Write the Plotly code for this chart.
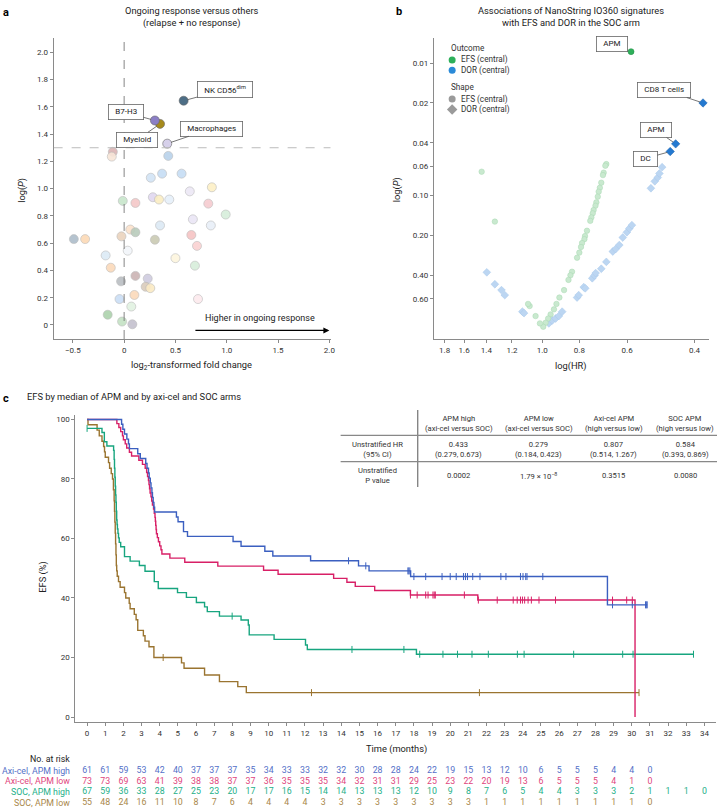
import numpy as np
import plotly.graph_objects as go

W, H = 722, 808
FONT = "Roboto"


def PX(x):
    return x / W


def PY(y):
    return 1 - y / H


def txt(text, x, y, size=9.3, color="#222", xanchor="center", yanchor="middle", angle=0):
    return dict(text=text, x=PX(x), y=PY(y), xref="paper", yref="paper", xanchor=xanchor,
                yanchor=yanchor, textangle=angle, showarrow=False,
                font=dict(family=FONT, size=size, color=color))


def padded(s):
    return "\u00a0\u00a0" + s + "\u00a0\u00a0"


# ---------------- Panel a data ----------------
a_names = ["NK CD56<sup>dim</sup>", "B7-H3", "Myeloid", "Macrophages"]
a_fc = [0.58, 0.30, 0.35, 0.42,
        -0.11, -0.12, 0.43, 0.26, 0.37, 0.56, 0.64, 0.855, -0.013, 0.11, 0.28, 0.34,
        0.44, 0.82, 0.99, 0.67, 0.845, 0.35, 0.06, 0.11, -0.026, -0.49, -0.38, 0.30,
        0.655, 0.71, 0.035, -0.18, 0.50, -0.13, 0.69, -0.03, 0.11, 0.23, 0.21, 0.255,
        -0.045, 0.10, 0.07, -0.16, -0.02, 0.08, 0.72]
a_logp = [1.645, 1.50, 1.475, 1.33,
          1.27, 1.235, 1.24, 1.08, 1.11, 1.11, 0.98, 1.01, 0.91, 0.895, 0.937, 0.92,
          0.92, 0.89, 0.81, 0.775, 0.73, 0.73, 0.70, 0.68, 0.65, 0.63, 0.63, 0.625,
          0.66, 0.58, 0.545, 0.51, 0.49, 0.42, 0.435, 0.32, 0.36, 0.34, 0.28, 0.27,
          0.19, 0.22, 0.135, 0.075, 0.025, 0.005, 0.19]
a_colors = ["#4d6e86", "#8b7fc6", "#a68a1c", "#d6d0ea",
            "#dcb4b4", "#f8e6d8", "#b9d2ea", "#d2e4f6", "#c6ddf5", "#c6ddf5", "#ede8f6", "#fdf0c6",
            "#c8e6cc", "#f5c8c8", "#e0d8f0", "#fbeec4", "#e6f0fa", "#f6ccd0", "#d6eedb", "#eae6f6",
            "#e8eff8", "#dce9f5", "#fbe2cb", "#b9ccbc", "#ead3bd", "#adbdca", "#fcdab6", "#cacab3",
            "#f6c4c4", "#fad2d2", "#f2f6fa", "#dceaf6", "#fdf6de", "#fbdabb", "#d8eedb", "#babec3",
            "#cbb4b4", "#cfcbdf", "#dacbbb", "#fbeac4", "#cadef6", "#fbdabb", "#e2f2e2", "#acd2ac",
            "#c4e2c4", "#c4c0ce", "#fdeaee"]
a_xticks = [-0.5, 0, 0.5, 1.0, 1.5, 2.0]
a_xticktext = ["\u22120.5", "0", "0.5", "1.0", "1.5", "2.0"]
a_yticks = [0, 0.2, 0.4, 0.6, 0.8, 1.0, 1.2, 1.4, 1.6, 1.8, 2.0]
a_yticktext = ["0", "0.2", "0.4", "0.6", "0.8", "1.0", "1.2", "1.4", "1.6", "1.8", "2.0"]
a_threshold = 1.3

# ---------------- Panel b data ----------------
efs_hr = [1.44, 1.33, 0.680, 0.684, 0.691, 0.694, 0.701, 0.707, 0.712, 0.716, 0.722, 0.726,
          0.734, 0.738, 0.744, 0.749, 0.764, 0.773, 0.776, 0.787, 0.792, 0.800, 0.811, 0.836,
          0.844, 0.854, 0.877, 0.902, 0.918, 0.932, 0.951, 0.965, 0.980, 0.994, 1.014, 1.041,
          1.079, 1.089]
efs_p = [0.066, 0.157, 0.0578, 0.0595, 0.0671, 0.0700, 0.0799, 0.0873, 0.0934, 0.1019, 0.1124,
         0.1192, 0.1284, 0.136, 0.146, 0.155, 0.184, 0.202, 0.213, 0.228, 0.244, 0.269, 0.294,
         0.375, 0.399, 0.432, 0.516, 0.587, 0.656, 0.721, 0.787, 0.845, 0.91, 0.975, 0.92,
         0.81, 0.68, 0.656]
dor_hr = [1.396, 1.33, 1.278, 1.253, 1.127, 1.116, 0.961, 0.942, 0.923, 0.905, 0.887, 0.811,
          0.803, 0.779, 0.772, 0.740, 0.730, 0.725, 0.701, 0.680, 0.654, 0.643, 0.629, 0.616,
          0.601, 0.592, 0.583, 0.520, 0.508, 0.499, 0.494, 0.486]
dor_p = [0.379, 0.466, 0.516, 0.563, 0.75, 0.77, 0.92, 0.875, 0.845, 0.81, 0.75, 0.587, 0.563,
         0.49, 0.50, 0.42, 0.40, 0.384, 0.356, 0.316, 0.264, 0.253, 0.236, 0.207, 0.189, 0.177,
         0.167, 0.088, 0.078, 0.073, 0.068, 0.061]
efs_hi_names = ["APM"]
efs_hi_hr = [0.586]
efs_hi_p = [0.0082]
dor_hi_names = ["CD8 T cells", "APM", "DC"]
dor_hi_hr = [0.38, 0.448, 0.463]
dor_hi_p = [0.020, 0.0407, 0.0465]
b_xticks = [1.8, 1.6, 1.4, 1.2, 1.0, 0.8, 0.6, 0.4]
b_xticktext = ["1.8", "1.6", "1.4", "1.2", "1.0", "0.8", "0.6", "0.4"]
b_yticks = [0.01, 0.02, 0.04, 0.06, 0.10, 0.20, 0.40, 0.60]
b_yticktext = ["0.01", "0.02", "0.04", "0.06", "0.10", "0.20", "0.40", "0.60"]
b_threshold = 0.05

# ---------------- Panel c data ----------------
groups = ["Axi-cel, APM high", "Axi-cel, APM low", "SOC, APM high", "SOC, APM low"]
colors_c = ["#3b5fc0", "#d81f66", "#17a57f", "#9a7430"]
text_colors_c = ["#5470c8", "#e0457d", "#25b089", "#a8874a"]

blue_t = [0, 1.90, 1.97, 2.06, 2.19, 2.28, 2.33, 2.79, 2.93, 3.23, 3.30, 3.38, 3.42, 3.48, 3.52,
          3.57, 3.60, 3.64, 3.68, 3.72, 4.92, 5.01, 5.31, 5.53, 8.04, 8.48, 9.79, 10.23, 12.31,
          14.95, 15.53, 17.82, 28.66, 30.85]
blue_s = [100, 98.4, 96.7, 95.1, 93.4, 91.8, 90.2, 88.5, 86.9, 85.2, 83.6, 82.0, 80.3, 78.7, 77.0,
          75.4, 73.8, 72.1, 70.5, 68.9, 67.2, 65.6, 62.3, 60.7, 59.0, 57.4, 55.7, 54.1, 52.5,
          50.8, 49.1, 47.2, 37.7, 37.7]
blue_c = [14.40, 15.35, 17.67, 17.72, 17.78, 18.0, 18.65, 19.55, 20.0, 20.33, 20.73, 20.84, 20.95,
          21.24, 21.64, 22.79, 23.07, 23.87, 24.01, 24.16, 24.23, 25.1, 28.94, 30.03, 30.76,
          30.80, 30.85]

pink_t = [0, 1.64, 1.75, 1.85, 1.95, 2.00, 2.10, 2.18, 2.33, 2.45, 2.85, 3.05, 3.20, 3.28, 3.33,
          3.38, 3.41, 3.44, 3.47, 3.52, 3.56, 3.60, 3.66, 3.70, 3.74, 3.76, 3.78, 3.80, 3.82,
          3.87, 3.93, 4.00, 4.07, 4.12, 4.56, 5.38, 7.20, 9.72, 10.52, 13.58, 14.31, 14.77,
          15.84, 17.81, 21.52, 30.18]
pink_s = [100, 98.6, 97.3, 95.9, 94.5, 93.2, 91.8, 90.4, 89.0, 87.7, 86.3, 84.9, 83.6, 82.2, 80.8,
          79.5, 78.1, 76.7, 75.3, 74.0, 72.6, 71.2, 69.9, 68.5, 67.1, 65.8, 64.4, 63.0, 61.6,
          60.3, 58.9, 57.5, 56.2, 54.8, 53.4, 52.0, 50.7, 49.3, 48.0, 46.6, 45.3, 43.9, 42.5,
          41.0, 39.3, 0]
pink_c = [17.81, 18.18, 18.65, 18.78, 19.05, 19.12, 19.18, 20.78, 21.55, 22.59, 23.47, 23.69,
          23.87, 23.98, 24.1, 24.29, 24.47, 24.89, 25.8, 28.94, 29.72, 30.03]

green_t = [0, 0.82, 0.95, 1.09, 1.46, 1.49, 1.51, 1.53, 1.55, 1.57, 1.59, 1.61, 1.63, 1.65, 1.67,
           1.70, 1.73, 1.77, 1.85, 2.06, 2.37, 2.88, 3.19, 3.70, 3.92, 4.98, 5.47, 6.02, 6.47,
           6.62, 7.29, 8.48, 8.88, 8.93, 10.30, 12.03, 12.13, 18.14, 33.4]
green_s = [97.0, 95.6, 92.5, 91.1, 89.6, 86.6, 83.6, 80.6, 77.6, 74.6, 72.2, 69.2, 66.2, 64.7,
           63.2, 61.7, 60.2, 58.7, 57.2, 53.9, 52.4, 50.9, 49.0, 45.5, 43.2, 41.8, 40.2, 38.5,
           37.0, 35.4, 33.9, 32.6, 30.9, 27.6, 26.1, 24.2, 22.7, 21.1, 21.1]
green_c = [0, 7.99, 14.59, 17.45, 18.32, 19.6, 20.4, 21.2, 22.1, 23.7, 24.07, 26.8, 29.5, 30.07,
           33.4]

brown_t = [0, 0.05, 0.55, 0.67, 0.82, 0.91, 0.96, 1.00, 1.18, 1.24, 1.33, 1.40, 1.45, 1.49, 1.51,
           1.53, 1.55, 1.57, 1.59, 1.61, 1.63, 1.66, 1.73, 1.82, 2.06, 2.13, 2.32, 2.37, 2.60,
           2.70, 2.79, 3.10, 3.19, 3.41, 3.68, 5.20, 5.34, 6.47, 7.29, 8.30, 8.77, 30.40]
brown_s = [100, 98.2, 96.4, 94.5, 92.7, 90.9, 89.1, 87.3, 85.5, 83.6, 81.8, 80.0, 76.4, 72.7,
           69.1, 65.5, 61.8, 58.2, 54.5, 50.9, 49.1, 47.3, 45.5, 43.6, 41.8, 40.0, 38.2, 36.4,
           34.5, 32.7, 29.1, 27.3, 25.5, 23.6, 20.0, 18.2, 16.4, 14.1, 11.9, 10.2, 8.2, 8.2]
brown_c = [4.19, 12.36, 21.61, 30.40]

risk_axi_high = [61, 61, 59, 53, 42, 40, 37, 37, 37, 35, 34, 33, 33, 32, 32, 30, 28, 28, 24, 22,
                 19, 15, 13, 12, 10, 6, 5, 5, 5, 4, 4, 0]
risk_axi_low = [73, 73, 69, 63, 41, 39, 38, 38, 37, 37, 36, 35, 35, 35, 34, 32, 31, 31, 29, 25,
                23, 22, 20, 19, 13, 6, 5, 5, 5, 4, 1, 0]
risk_soc_high = [67, 59, 36, 33, 28, 27, 25, 23, 20, 17, 17, 16, 15, 14, 14, 13, 13, 13, 12, 10,
                 9, 8, 7, 6, 5, 4, 4, 3, 3, 3, 2, 1, 1, 1, 0]
risk_soc_low = [55, 48, 24, 16, 11, 10, 8, 7, 6, 4, 4, 4, 4, 3, 3, 3, 3, 3, 3, 3, 3, 3, 1, 1, 1,
                1, 1, 1, 1, 1, 1, 0]
c_months = list(range(0, 35))
c_yticks = [0, 20, 40, 60, 80, 100]

table_cols = [("APM high", "(axi-cel versus SOC)"), ("APM low", "(axi-cel versus SOC)"),
              ("Axi-cel APM", "(high versus low)"), ("SOC APM", "(high versus low)")]
table_hr = ["0.433", "0.279", "0.807", "0.584"]
table_ci = ["(0.279, 0.673)", "(0.184, 0.423)", "(0.514, 1.267)", "(0.393, 0.869)"]
table_p = ["0.0002", "1.79 \u00d7 10<sup>\u22128</sup>", "0.3515", "0.0080"]

# ---------------- Figure ----------------
fig = go.Figure()
AX = "#8a8a8a"
TICKF = dict(family=FONT, size=8, color="#333")
LABF = 8
TABF = 7.6

# Panel a
n_hi = len(a_names)
fig.add_trace(go.Scatter(x=a_fc[n_hi:], y=a_logp[n_hi:], mode="markers", xaxis="x", yaxis="y",
                         marker=dict(size=9, color=a_colors[n_hi:], opacity=0.9,
                                     line=dict(color="#b5b5b5", width=0.6)), hoverinfo="skip"))
fig.add_trace(go.Scatter(x=a_fc[:n_hi][::-1], y=a_logp[:n_hi][::-1], mode="markers", xaxis="x", yaxis="y",
                         marker=dict(size=9, color=a_colors[:n_hi][::-1],
                                     line=dict(color="#666", width=0.6)), hoverinfo="skip"))

# Panel b
fig.add_trace(go.Scatter(x=dor_hr, y=dor_p, mode="markers", xaxis="x2", yaxis="y2",
                         marker=dict(symbol="diamond", size=6, color="#bcd6f2",
                                     line=dict(color="#a9c8ea", width=0.5)), hoverinfo="skip"))
fig.add_trace(go.Scatter(x=efs_hr, y=efs_p, mode="markers", xaxis="x2", yaxis="y2",
                         marker=dict(symbol="circle", size=5.5, color="#c9e9cf",
                                     line=dict(color="#a9d8b2", width=0.5)), hoverinfo="skip"))
fig.add_trace(go.Scatter(x=efs_hi_hr, y=efs_hi_p, mode="markers", xaxis="x2", yaxis="y2",
                         marker=dict(symbol="circle", size=6, color="#2eb05a",
                                     line=dict(color="#1d8a42", width=0.5)), hoverinfo="skip"))
fig.add_trace(go.Scatter(x=dor_hi_hr, y=dor_hi_p, mode="markers", xaxis="x2", yaxis="y2",
                         marker=dict(symbol="diamond", size=6.5, color="#2479d0",
                                     line=dict(color="#1a5ea8", width=0.5)), hoverinfo="skip"))

# Panel b legend glyphs (hidden helper axis, 1 unit = 1 px)
fig.add_trace(go.Scatter(x=[10.3, 10.3, 10.3], y=[20, 30.3, 59], mode="markers", xaxis="x4", yaxis="y4",
                         marker=dict(symbol="circle", size=7, color=["#2eb05a", "#2a8ad8", "#9a9a9a"]),
                         hoverinfo="skip"))
fig.add_trace(go.Scatter(x=[10.3], y=[69.5], mode="markers", xaxis="x4", yaxis="y4",
                         marker=dict(symbol="diamond", size=8, color="#9a9a9a"), hoverinfo="skip"))

# Panel c KM curves
series = [(blue_t, blue_s, blue_c), (pink_t, pink_s, pink_c),
          (green_t, green_s, green_c), (brown_t, brown_s, brown_c)]
draw_order = [3, 2, 1, 0]
for k in draw_order:
    t, s, c = series[k]
    fig.add_trace(go.Scatter(x=t, y=s, mode="lines", line=dict(color=colors_c[k], width=1.4, shape="hv"),
                             xaxis="x3", yaxis="y3", hoverinfo="skip"))
for (t, s, c), col in zip(series, colors_c):
    ta = np.array(t)
    sa = np.array(s)
    idx = np.searchsorted(ta, np.array(c), side="right") - 1
    cy = sa[np.clip(idx, 0, len(sa) - 1)]
    fig.add_trace(go.Scatter(x=c, y=cy, mode="markers", xaxis="x3", yaxis="y3",
                             marker=dict(symbol="line-ns", size=5, line=dict(color=col, width=1)),
                             hoverinfo="skip"))

# At-risk numbers (helper axis sharing the panel c time scale)
risks = [risk_axi_high, risk_axi_low, risk_soc_high, risk_soc_low]
for r, (vals, col) in enumerate(zip(risks, text_colors_c)):
    fig.add_trace(go.Scatter(x=c_months[:len(vals)], y=[r] * len(vals), mode="text",
                             text=[str(v) for v in vals], textposition="middle center",
                             textfont=dict(family=FONT, size=8.8, color=col),
                             xaxis="x5", yaxis="y5", hoverinfo="skip"))

ann = []
shapes = []

# Panel letters and titles
ann += [
    txt("<b>a</b>", 1, 4, size=11, color="black", xanchor="left", yanchor="top"),
    txt("<b>b</b>", 397, 3, size=11, color="black", xanchor="left", yanchor="top"),
    txt("<b>c</b>", 1, 390, size=11, color="black", xanchor="left", yanchor="top"),
    txt("Ongoing response versus others<br>(relapse + no response)", 193, 3, yanchor="top"),
    txt("Associations of NanoString IO360 signatures<br>with EFS and DOR in the SOC arm", 575, 3,
        yanchor="top"),
    txt("EFS by median of APM and by axi-cel and SOC arms", 25, 396, xanchor="left"),
]
# Axis titles
ann += [
    txt("log(<i>P</i>)", 22, 190, angle=-90),
    txt("log<sub>2</sub>-transformed fold change", 193, 366),
    txt("log(<i>P</i>)", 400, 190, angle=-90),
    txt("log(HR)", 575, 366),
    txt("EFS (%)", 43, 577, angle=-90),
    txt("Time (months)", 399, 749),
]

# Panel a labels with leader lines
lab_off = [(41, -11), (-29, -8), (-23, 16), (44, -15)]
for i, (dx, dy) in enumerate(lab_off):
    ann.append(dict(text=padded(a_names[i]), x=a_fc[i], y=a_logp[i], xref="x", yref="y", ax=dx, ay=dy,
                    showarrow=True, arrowhead=0, arrowwidth=0.8, arrowcolor="#555", standoff=4,
                    bgcolor="white", bordercolor="#666", borderwidth=0.8, borderpad=2.5,
                    xanchor="center", yanchor="middle",
                    font=dict(family=FONT, size=LABF, color="#222")))
# Arrow and text
ann.append(dict(x=2.0, y=-0.04, ax=0.68, ay=-0.04, xref="x", yref="y", axref="x", ayref="y",
                showarrow=True, arrowhead=2, arrowsize=1, arrowwidth=1.2, arrowcolor="black", text=""))
ann.append(dict(text="Higher in ongoing response", x=1.32, y=0.05, xref="x", yref="y", showarrow=False,
                xanchor="center", yanchor="middle", font=dict(family=FONT, size=9, color="#222")))

# Panel b labels
b_lab = [(efs_hi_names[0], efs_hi_hr[0], efs_hi_p[0], -19, -8)]
b_off = [(-39, -13), (-20, -14), (-25, 7)]
for n, h, p, (dx, dy) in zip(dor_hi_names, dor_hi_hr, dor_hi_p, b_off):
    b_lab.append((n, h, p, dx, dy))
for n, h, p, dx, dy in b_lab:
    ann.append(dict(text=padded(n), x=np.log10(h), y=np.log10(p), xref="x2", yref="y2", ax=dx, ay=dy,
                    showarrow=True, arrowhead=0, arrowwidth=0.8, arrowcolor="#555", standoff=3,
                    bgcolor="white", bordercolor="#666", borderwidth=0.8, borderpad=2.5,
                    xanchor="center", yanchor="middle",
                    font=dict(family=FONT, size=LABF, color="#222")))

# Panel b legend text
leg_items = [("Outcome", 452, 48), ("EFS (central)", 462, 60), ("DOR (central)", 462, 70.3),
             ("Shape", 452, 87), ("EFS (central)", 462, 99), ("DOR (central)", 462, 109.5)]
for t_, x, y in leg_items:
    ann.append(txt(t_, x, y, size=8.2, color="#333", xanchor="left"))

# Table
col_x = [461.7, 542.3, 618, 690]
for (h1, h2), hr, ci, p, cx in zip(table_cols, table_hr, table_ci, table_p, col_x):
    ann.append(txt(h1 + "<br>" + h2, cx, 423, size=TABF, color="#333"))
    ann.append(txt(hr + "<br>" + ci, cx, 449, size=TABF, color="#333"))
    ann.append(txt(p, cx, 475.5, size=TABF, color="#333"))
ann.append(txt("Unstratified HR<br>(95% CI)", 380, 449, size=TABF, color="#333"))
ann.append(txt("Unstratified<br>P value", 380, 475.5, size=TABF, color="#333"))
shapes += [
    dict(type="line", xref="paper", yref="paper", x0=PX(420.7), x1=PX(420.7), y0=PY(410), y1=PY(487),
         line=dict(color="#555", width=1)),
    dict(type="line", xref="paper", yref="paper", x0=PX(343), x1=PX(722), y0=PY(435.3), y1=PY(435.3),
         line=dict(color="#888", width=1.3)),
    dict(type="line", xref="paper", yref="paper", x0=PX(343), x1=PX(722), y0=PY(461.7), y1=PY(461.7),
         line=dict(color="#888", width=1.3)),
]

# At-risk labels
ann.append(txt("No. at risk", 73, 759, size=8.8, xanchor="right"))
for r, (g, col) in enumerate(zip(groups, text_colors_c)):
    ann.append(dict(text=g, x=PX(73), y=r, xref="paper", yref="y5", xanchor="right", yanchor="middle",
                    showarrow=False, font=dict(family=FONT, size=8.8, color=col)))

# Threshold lines
shapes += [
    dict(type="line", xref="x", yref="y", x0=0, x1=0, y0=-0.103, y1=2.105,
         line=dict(color="#777", width=0.9, dash="dash")),
    dict(type="line", xref="x", yref="y", x0=-0.687, x1=2.013, y0=a_threshold, y1=a_threshold,
         line=dict(color="#bbb", width=1, dash="dash")),
    dict(type="line", xref="x2 domain", yref="y2", x0=0, x1=1, y0=np.log10(b_threshold), y1=np.log10(b_threshold),
         line=dict(color="#bbb", width=1, dash="dash")),
]

axis_common = dict(showline=True, linecolor=AX, linewidth=1, ticks="outside", ticklen=3,
                   tickcolor=AX, tickwidth=0.8, showgrid=False, zeroline=False, tickfont=TICKF)

fig.update_layout(
    width=W, height=H, margin=dict(l=0, r=0, t=0, b=0), showlegend=False,
    paper_bgcolor="white", plot_bgcolor="rgba(0,0,0,0)",
    font=dict(family=FONT, size=8, color="#222"),
    xaxis=dict(domain=[PX(54), PX(333)], range=[-0.687, 2.013], anchor="y",
               tickvals=a_xticks, ticktext=a_xticktext, **axis_common),
    yaxis=dict(domain=[PY(339), PY(38)], range=[-0.103, 2.105], anchor="x",
               tickvals=a_yticks, ticktext=a_yticktext, **axis_common),
    xaxis2=dict(domain=[PX(437), PX(714)], type="log", range=[0.283, -0.436], anchor="y2",
                tickvals=b_xticks, ticktext=b_xticktext, **axis_common),
    yaxis2=dict(domain=[PY(339.3), PY(38)], type="log", range=[0.0837, -2.189], anchor="x2",
                tickvals=b_yticks, ticktext=b_yticktext, **axis_common),
    xaxis3=dict(domain=[PX(76), PX(721)], range=[-0.64, 34.64], anchor="y3",
                tickvals=c_months, ticktext=[str(m) for m in c_months], **axis_common),
    yaxis3=dict(domain=[PY(722.3), PY(415)], range=[-1.78, 101.5], anchor="x3",
                tickvals=c_yticks, ticktext=[str(v) for v in c_yticks], **axis_common),
    xaxis4=dict(domain=[PX(445), PX(545)], range=[0, 100], anchor="y4", visible=False),
    yaxis4=dict(domain=[PY(115), PY(40)], range=[75, 0], anchor="x4", visible=False),
    xaxis5=dict(domain=[PX(76), PX(721)], range=[-0.64, 34.64], anchor="y5", visible=False),
    yaxis5=dict(domain=[PY(808), PY(762)], range=[3.495, -0.815], anchor="x5", visible=False),
    annotations=ann, shapes=shapes,
)

fig.write_html("out.html", config={"displayModeBar": False},
               post_script="document.body.style.margin='0';document.body.style.overflow='hidden';")
